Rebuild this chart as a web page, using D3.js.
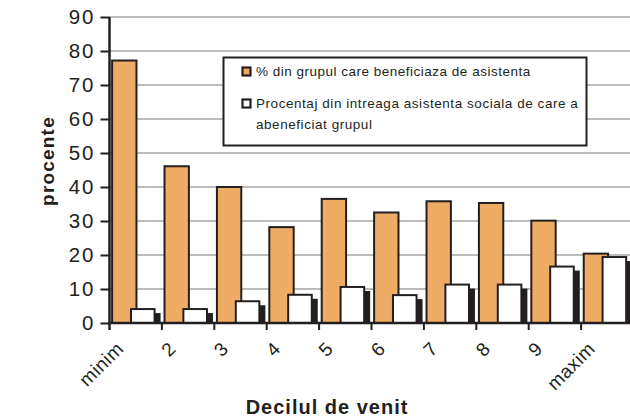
<!DOCTYPE html>
<html><head><meta charset="utf-8">
<script src="https://cdn.jsdelivr.net/npm/d3@7"></script>
<style>body{margin:0;background:#fff}svg{display:block}text{font-family:"Liberation Sans",Arial,sans-serif;fill:#231f20}</style>
</head><body>
<svg id="c" width="630" height="420"></svg>
<script>
const categories = ["minim","2","3","4","5","6","7","8","9","maxim"];
const pctGroup = [77.2,46.1,40,28.2,36.5,32.5,35.8,35.3,30.1,20.4];
const pctTotal = [4.1,4.1,6.4,8.3,10.6,8.2,11.3,11.3,16.6,19.4];
const yTicks = [0,10,20,30,40,50,60,70,80,90];
const legendLabels = ["% din grupul care beneficiaza de asistenta", ["Procentaj din intreaga asistenta sociala de care a","abeneficiat grupul"]];
const yTitle = "procente", xTitle = "Decilul de venit";

const svg = d3.select("#c");
const ink = "#231f20", orange = "#efac64";
const x = d3.scaleBand().domain(categories).range([109.5, 633.5]).padding(0);
const y = d3.scaleLinear().domain([0, 90]).range([323, 17]);
const bw = x.bandwidth();

// gridlines
svg.append("g").selectAll("line").data(yTicks.filter(t => t > 0)).join("line")
  .attr("x1", 109).attr("x2", 630).attr("y1", d => y(d)).attr("y2", d => y(d))
  .attr("stroke", "#a6a6a6").attr("stroke-width", 1.5);

// orange bars
svg.append("g").selectAll("rect").data(categories).join("rect")
  .attr("x", d => x(d) + 0.05 * bw).attr("width", 0.465 * bw)
  .attr("y", (d, i) => y(pctGroup[i])).attr("height", (d, i) => y(0) - y(pctGroup[i]))
  .attr("fill", orange).attr("stroke", ink).attr("stroke-width", 2);

// white bar shadows
svg.append("g").selectAll("rect").data(categories).join("rect")
  .attr("x", d => x(d) + 0.41 * bw + 6).attr("width", 0.45 * bw)
  .attr("y", (d, i) => y(pctTotal[i]) + 4).attr("height", (d, i) => y(0) - y(pctTotal[i]) - 4)
  .attr("fill", ink);
// white bars
svg.append("g").selectAll("rect").data(categories).join("rect")
  .attr("x", d => x(d) + 0.41 * bw).attr("width", 0.45 * bw)
  .attr("y", (d, i) => y(pctTotal[i])).attr("height", (d, i) => y(0) - y(pctTotal[i]))
  .attr("fill", "#fff").attr("stroke", ink).attr("stroke-width", 2);

// y axis
const yAxis = svg.append("g").attr("transform", "translate(109.5,0)")
  .call(d3.axisLeft(y).tickValues(yTicks).tickSize(9).tickPadding(5).tickFormat(d3.format("d")));
yAxis.select(".domain").attr("stroke", ink).attr("stroke-width", 2.5).attr("d", `M0,${y(90)}V${y(0)+7}`);
yAxis.selectAll(".tick line").attr("stroke", ink).attr("stroke-width", 2);
yAxis.selectAll(".tick text").attr("font-size", 20.5).attr("letter-spacing", 2).attr("fill", ink)
  .style("font-family", '"Liberation Sans",Arial,sans-serif');

// x axis
const xAxis = svg.append("g").attr("transform", `translate(0,${y(0)})`)
  .call(d3.axisBottom(x).tickSize(0).tickFormat(""));
xAxis.select(".domain").attr("stroke", ink).attr("stroke-width", 2.5).attr("d", "M108,0H630");
svg.append("g").selectAll("line").data(categories.slice(1)).join("line")
  .attr("x1", d => x(d)).attr("x2", d => x(d)).attr("y1", y(0)).attr("y2", y(0) + 7)
  .attr("stroke", ink).attr("stroke-width", 2);
svg.append("g").selectAll("text").data(categories).join("text")
  .attr("transform", d => `translate(${x(d) + bw / 2 - 11},${y(0) + 27}) rotate(-45)`)
  .attr("text-anchor", "end").attr("font-size", 19).attr("letter-spacing", 0.5)
  .text(d => d);

// titles
svg.append("text").attr("transform", "translate(54,161) rotate(-90)")
  .attr("text-anchor", "middle").attr("font-size", 19).attr("font-weight", "bold").attr("letter-spacing", 1.2)
  .text(yTitle);
svg.append("text").attr("x", 327).attr("y", 414).attr("text-anchor", "middle")
  .attr("font-size", 20).attr("font-weight", "bold").attr("letter-spacing", 1).text(xTitle);

// legend
const lg = svg.append("g");
lg.append("rect").attr("x", 223.5).attr("y", 57.5).attr("width", 363).attr("height", 88)
  .attr("fill", "#fff").attr("stroke", ink).attr("stroke-width", 2);
const swY = [67.5, 99.5], fills = [orange, "#fff"];
lg.selectAll("rect.sw").data(fills).join("rect").attr("class", "sw")
  .attr("x", 242.5).attr("y", (d, i) => swY[i]).attr("width", 8).attr("height", 8)
  .attr("fill", d => d).attr("stroke", ink).attr("stroke-width", 2.2);
lg.append("text").attr("x", 256).attr("y", 76).attr("font-size", 13.5).attr("letter-spacing", 0.5).text(legendLabels[0]);
const t2 = lg.append("text").attr("x", 256).attr("y", 108).attr("font-size", 13.5).attr("letter-spacing", 0.55);
t2.selectAll("tspan").data(legendLabels[1]).join("tspan").attr("x", 256).attr("dy", (d, i) => i ? 21 : 0).text(d => d);
</script>
</body></html>
